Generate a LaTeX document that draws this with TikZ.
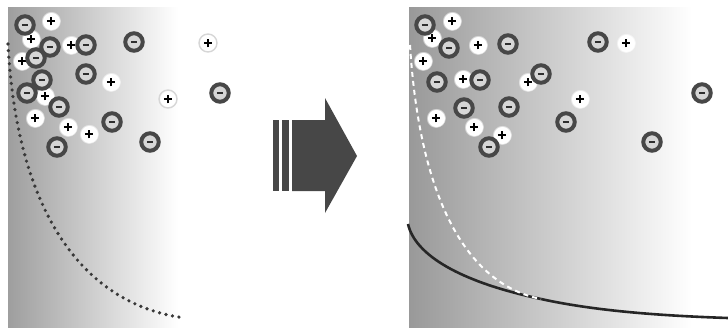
\documentclass[tikz,border=0pt]{standalone}
\usetikzlibrary{fadings}
\newcommand{\minusmark}{\rule[-0.9pt]{6.5pt}{1.8pt}}
\newcommand{\plusmark}{\makebox[0pt]{\rule[-1pt]{8.5pt}{2pt}}\makebox[0pt]{\rule[-4.25pt]{2pt}{8.5pt}}}
\begin{document}
\begin{tikzpicture}[x=1pt,y=-1pt,
  minusion/.style={circle, inner sep=0pt, minimum size=17.5pt, line width=4pt,
    draw=black!72, fill=black!16, text=black!82},
  plusion/.style={circle, inner sep=0pt, minimum size=20pt, text=black,
    preaction={fill=white, path fading=circle with fuzzy edge 20 percent}},
  plusring/.style={plusion, minimum size=18pt, draw=black!16, line width=1.4pt},
  dotline/.style={draw=black!78, line width=3.6pt, line cap=round, dash pattern=on 0pt off 6.6pt},
  whitedash/.style={draw=white, line width=2pt, dash pattern=on 5pt off 4pt},
  boundary/.style={draw=black!85, line width=2.6pt},
  bigarrow/.style={fill=black!72, draw=none}]
\useasboundingbox (0,0) rectangle (728,327);

% two background panels, dark on the left and fading to white
\shade[left color=black!38, right color=white] (8,7) rectangle (178,327);
\shade[left color=black!40, right color=white] (409,7) rectangle (692,327);

% left panel: dotted boundary
\coordinate (ldotA) at (8,44);
\coordinate (ldotB) at (185,318);
\draw[dotline] (ldotA) .. controls (17,215) and (85,305) .. (ldotB);

% right panel: old boundary (white dashes) and new boundary (solid)
\coordinate (rdashA) at (410,45);
\coordinate (cross) at (541,299);
\coordinate (rsolA) at (408,224);
\coordinate (rsolB) at (728,318);
\draw[boundary] (rsolA) .. controls (415,255) and (460,282) .. (cross)
  .. controls (600,312) and (670,316) .. (rsolB);
\draw[whitedash] (rdashA) .. controls (420,205) and (470,285) .. (cross);

% left panel ions
\foreach \x/\y [count=\i] in {51/21,31/39,71/45,22/61,111/82,45/96,35/118,68/127,89/134}
  \node[plusion] (pL\i) at (\x,\y) {\plusmark};
\node[plusring] (pL10) at (208,43) {\plusmark};
\node[plusring] (pL11) at (168,99) {\plusmark};
\foreach \x/\y [count=\i] in {25/25,50/47,86/45,134/42,36/58,86/74,27/93,42/80,59/107,112/122,57/147,150/142,220/93}
  \node[minusion] (mL\i) at (\x,\y) {\minusmark};

% transition arrow
\fill[bigarrow] (273,120) rectangle (279,191);
\fill[bigarrow] (282,120) rectangle (289,191);
\fill[bigarrow] (292,120) -- (325,120) -- (325,98) -- (357,156) -- (325,213) -- (325,191) -- (292,191) -- cycle;

% right panel ions
\foreach \x/\y [count=\i] in {452/21,432/38,478/45,423/61,463/79,528/82,580/99,436/118,474/127,502/135,626/43}
  \node[plusion] (pR\i) at (\x,\y) {\plusmark};
\foreach \x/\y [count=\i] in {425/25,449/48,508/44,598/42,437/82,480/80,541/74,464/108,509/107,566/122,489/147,652/142,702/93}
  \node[minusion] (mR\i) at (\x,\y) {\minusmark};
\end{tikzpicture}
\end{document}
